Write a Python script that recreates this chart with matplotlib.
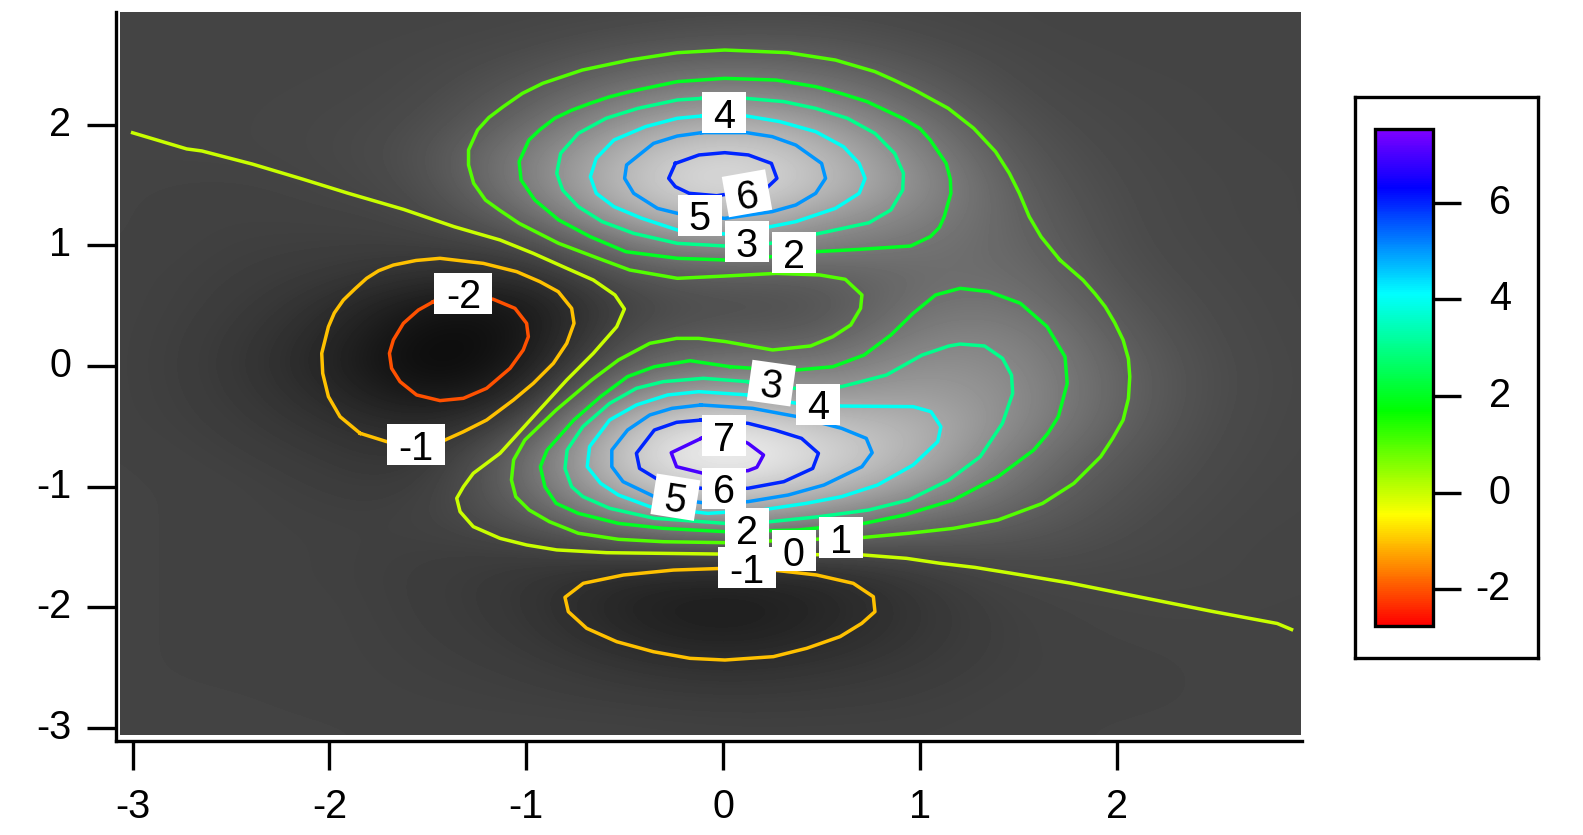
#!/usr/bin/env python3
import numpy as np

import matplotlib
matplotlib.use("Agg")
import matplotlib.pyplot as plt
from matplotlib.colors import LinearSegmentedColormap, Normalize
from matplotlib.cm import ScalarMappable
from matplotlib.patches import Rectangle
from matplotlib.transforms import Affine2D

plt.rcParams["font.family"] = ["Liberation Sans", "DejaVu Sans"]
plt.rcParams["axes.unicode_minus"] = False

# surface values (rows from y=3 down to y=-3)
grid_x = [-3, -2.5, -2, -1.5, -1, -0.5, 0, 0.5, 1, 1.5, 2, 2.5, 3]
grid_y = [3 - 0.25 * i for i in range(25)]
z_grid = [
    [0, 0, 0, 0, 0, 0, .1, .1, .05, 0, 0, 0, 0],
    [0, 0, 0, 0, .05, .3, .5, .5, .2, 0, 0, 0, 0],
    [0, 0, 0, .05, .35, 1.05, 1.4, 1.2, .6, .1, 0, 0, 0],
    [0, 0, .02, .1, .85, 2.05, 2.8, 2.3, 1.1, .2, .05, 0, 0],
    [0, 0, .05, .25, 1.4, 3.4, 4.5, 3.7, 1.85, .4, .1, 0, 0],
    [-.02, 0, .05, .4, 2.25, 4.6, 6.05, 4.8, 2.5, .65, .15, .02, 0],
    [-.05, -.1, 0, .25, 2.3, 4.95, 6.5, 5.05, 2.9, .9, .2, .05, 0],
    [-.05, -.15, -.1, .02, 1.4, 4, 5.2, 3.6, 2.5, 1.15, .25, .05, 0],
    [-.05, -.2, -.25, -.25, .1, 2, 3.05, 2.3, 1.9, 1.4, .3, .08, 0],
    [-.1, -.25, -.45, -.85, -1, .7, 1, 1, 1.6, 1.7, .45, .1, .02],
    [-.1, -.3, -.8, -1.9, -1.9, .05, .45, .4, 1.95, 2, .7, .15, .02],
    [-.1, -.4, -1.1, -2.4, -2.05, .45, .9, .85, 2.5, 2.55, .95, .2, .02],
    [-.1, -.45, -1.25, -2.55, -1.8, 1.2, 2.1, 2, 3.2, 2.8, 1.2, .25, .03],
    [-.1, -.4, -1, -2, -1.2, 3, 4.2, 3.3, 3.8, 2.95, 1.25, .25, .03],
    [-.1, -.3, -.7, -1.15, 0, 5, 6.5, 5.1, 4.55, 2.7, 1.1, .2, .02],
    [-.05, -.2, -.45, -.8, 1.4, 5.6, 7.5, 6, 4.4, 2.05, .8, .15, .02],
    [-.05, -.1, -.3, -.45, 1.4, 4.7, 6.1, 4.9, 3.4, 1.55, .55, .1, 0],
    [-.05, -.1, -.2, -.2, .75, 2.7, 3.6, 2.8, 1.8, 1.05, .35, .05, 0],
    [-.05, -.1, -.15, -.25, -.2, .4, .7, .5, .5, .5, .2, .02, -.02],
    [-.05, -.1, -.15, -.3, -.55, -1.05, -1.2, -1.05, -.4, .1, .05, .02, -.02],
    [-.05, -.1, -.1, -.3, -.55, -1.35, -1.65, -1.3, -.6, -.1, -.02, 0, -.05],
    [-.05, -.1, -.1, -.25, -.45, -1.1, -1.5, -1.1, -.55, -.15, -.05, -.05, -.05],
    [-.05, -.1, -.1, -.2, -.3, -.6, -.85, -.65, -.4, -.15, -.1, -.05, -.05],
    [-.05, -.05, -.1, -.15, -.2, -.3, -.4, -.35, -.25, -.1, -.1, -.05, -.05],
    [-.05, -.05, -.05, -.1, -.1, -.1, -.15, -.15, -.15, -.1, -.05, -.05, -.05],
]

# contour traces
level0 = [(-3.0, 1.934), (-2.725, 1.80), (-2.648, 1.783), (-2.391, 1.674), (-2.135, 1.549),
          (-1.904, 1.432), (-1.622, 1.298), (-1.366, 1.155), (-1.25, 1.10), (-1.133, 1.045), (-.964, .934),
          (-.794, .81), (-.659, .713), (-.549, .589), (-.501, .473), (-.54, .326), (-.659, .105),
          (-.794, -.116), (-.964, -.42), (-1.133, -.724), (-1.269, -.89), (-1.319, -1.001),
          (-1.353, -1.097), (-1.336, -1.208), (-1.269, -1.332), (-1.133, -1.429), (-.998, -1.484),
          (-.845, -1.525), (-.591, -1.548), (-.032, -1.559), (.713, -1.567), (.933, -1.595),
          (1.103, -1.636), (1.28, -1.67), (1.456, -1.716), (1.764, -1.80), (2.123, -1.917),
          (2.483, -2.034), (2.816, -2.135), (2.889, -2.185)]
level1 = [(1.712, .879), (1.616, 1.072), (1.556, 1.238), (1.506, 1.432), (1.455, 1.598),
          (1.385, 1.777), (1.274, 1.971), (1.144, 2.137), (.973, 2.289), (.87, 2.37), (.772, 2.441),
          (.571, 2.537), (.33, 2.598), (.009, 2.62), (-.232, 2.598), (-.474, 2.537),
          (-.715, 2.454), (-.916, 2.344), (-1.02, 2.26), (-1.117, 2.15), (-1.19, 2.06), (-1.247, 1.957),
          (-1.293, 1.791), (-1.293, 1.667), (-1.267, 1.515), (-1.207, 1.376), (-1.137, 1.294), (-1.036, 1.183),
          (-.835, 1.017), (-.634, .893), (-.474, .796), (-.232, .727), (.009, .746), (.27, .768),
          (.491, .755), (.621, .719), (.706, .589), (.699, .478), (.649, .34), (.558, .243),
          (.445, .166), (.252, .133), (.014, .202), (-.123, .229), (-.236, .229), (-.372, .188),
          (-.531, .05), (-.667, -.116), (-.848, -.365), (-1.007, -.614), (-1.064, -.779),
          (-1.075, -.945), (-1.053, -1.084), (-.985, -1.194), (-.882, -1.291), (-.735, -1.387),
          (-.531, -1.437), (-.304, -1.457), (.014, -1.465), (.717, -1.421), (.944, -1.387),
          (1.171, -1.346), (1.397, -1.277), (1.624, -1.139), (1.783, -.973), (1.919, -.752),
          (1.98, -.60), (2.033, -.448), (2.06, -.27), (2.067, -.088), (2.06, .06), (2.033, .216),
          (1.99, .36), (1.942, .492), (1.89, .60), (1.829, .713)]
level2_top = [(.471, .948), (.692, .967), (.953, .995), (1.053, 1.072), (1.10, 1.15), (1.124, 1.238),
              (1.158, 1.432), (1.155, 1.55), (1.134, 1.68), (1.053, 1.874), (1.0, 1.97), (.913, 2.054), (.732, 2.192),
              (.6, 2.26), (.471, 2.316), (.27, 2.371), (.009, 2.385), (-.232, 2.358), (-.474, 2.275),
              (-.58, 2.23), (-.675, 2.178), (-.77, 2.12), (-.855, 2.054), (-.93, 1.96), (-.986, 1.874),
              (-1.036, 1.694), (-1.026, 1.542),
              (-.956, 1.376), (-.835, 1.211), (-.674, 1.072), (-.494, .948), (-.232, .893),
              (.013, .879), (.25, .907)]
level2_low = [(.036, -.006), (-.168, .044), (-.349, -.006), (-.485, -.088), (-.622, -.254),
              (-.758, -.448), (-.894, -.697), (-.928, -.835), (-.905, -1.001), (-.848, -1.139),
              (-.735, -1.222), (-.531, -1.305), (-.304, -1.346), (.014, -1.374), (.377, -1.36),
              (.717, -1.305), (.921, -1.236), (1.171, -1.111), (1.397, -.918), (1.579, -.697),
              (1.65, -.56), (1.704, -.42), (1.749, -.144), (1.738, .077), (1.647, .326), (1.511, .52),
              (1.352, .616), (1.205, .644), (1.08, .589), (.966, .437), (.853, .257), (.717, .091),
              (.558, -.006), (.377, -.033), (.15, -.019)]
level3_top = [(-.108, 2.219), (-.232, 2.206), (-.433, 2.136), (-.594, 2.054), (-.735, 1.929),
              (-.825, 1.763), (-.845, 1.598), (-.815, 1.459), (-.735, 1.321), (-.614, 1.197),
              (-.454, 1.10), (-.232, 1.017), (.013, .995), (.24, 1.017), (.491, 1.10), (.742, 1.188),
              (.853, 1.294), (.913, 1.459), (.917, 1.598), (.872, 1.763), (.772, 1.929),
              (.632, 2.054), (.471, 2.136), (.31, 2.192), (.119, 2.219)]
level3_low = [(.127, -.13), (-.10, -.102), (-.304, -.13), (-.44, -.185), (-.576, -.31),
              (-.712, -.503), (-.792, -.697), (-.803, -.849), (-.769, -1.001), (-.712, -1.083),
              (-.576, -1.18), (-.349, -1.263), (.014, -1.305), (.24, -1.291), (.49, -1.249),
              (.74, -1.194), (.944, -1.111), (1.148, -.945), (1.307, -.752), (1.42, -.475),
              (1.472, -.227), (1.466, -.075), (1.42, .064), (1.329, .166), (1.205, .182),
              (1.148, .166), (1.012, .091), (.83, -.075), (.603, -.171), (.354, -.185)]
level4_top = [(-.108, 2.073), (-.232, 2.054), (-.393, 1.985), (-.554, 1.874), (-.644, 1.722),
              (-.674, 1.57), (-.644, 1.432), (-.554, 1.321), (-.413, 1.225), (-.232, 1.128),
              (.009, 1.095), (.24, 1.155), (.37, 1.197), (.571, 1.307), (.692, 1.432), (.722, 1.556),
              (.692, 1.68), (.612, 1.819), (.471, 1.943), (.29, 2.026), (.119, 2.073)]
level4_low = [(.127, -.24), (-.123, -.213), (-.281, -.24), (-.44, -.323), (-.576, -.448),
              (-.678, -.669), (-.69, -.835), (-.622, -.973), (-.531, -1.07), (-.372, -1.166),
              (-.077, -1.222), (.195, -1.194), (.422, -1.139), (.603, -1.083), (.785, -.987),
              (.966, -.821), (1.091, -.627), (1.107, -.503), (1.057, -.379), (.966, -.337),
              (.603, -.332), (.377, -.31)]
level5_top = [(-.108, 1.935), (-.232, 1.907), (-.353, 1.846), (-.49, 1.667), (-.50, 1.556),
              (-.454, 1.432), (-.333, 1.307), (-.232, 1.266), (.009, 1.224), (.25, 1.28),
              (.37, 1.335), (.471, 1.432), (.521, 1.556), (.501, 1.68), (.37, 1.832), (.25, 1.902),
              (.119, 1.935)]
level5_low = [(-.111, -.323), (-.259, -.351), (-.372, -.406), (-.485, -.531), (-.565, -.697),
              (-.565, -.835), (-.508, -.959), (-.349, -1.083), (-.077, -1.139), (.127, -1.125),
              (.331, -1.07), (.513, -.987), (.706, -.835), (.758, -.719), (.728, -.60), (.603, -.517),
              (.377, -.42), (.15, -.351)]
level6_top = [(-.242, 1.68), (-.122, 1.75), (.009, 1.769), (.129, 1.75), (.246, 1.68), (.274, 1.556),
              (.22, 1.473), (-.032, 1.412), (-.172, 1.432), (-.242, 1.487), (-.276, 1.556)]
level6_low = [(-.111, -.448), (-.236, -.467), (-.349, -.531), (-.44, -.724), (-.424, -.849),
              (-.327, -.945), (-.111, -1.014), (.127, -1.014), (.309, -.959), (.456, -.849),
              (.485, -.724), (.399, -.60), (.263, -.531), (.127, -.475)]
level7 = [(-.111, -.60), (-.263, -.719), (-.236, -.835), (-.10, -.89), (.127, -.868), (.172, -.84),
          (.206, -.738), (.127, -.641), (.014, -.558)]
levelm1_left = [(-1.844, -.558), (-1.946, -.42), (-2.005, -.254), (-2.034, -.061), (-2.039, .105),
                (-2.005, .326), (-1.975, .44), (-1.929, .547), (-1.87, .64), (-1.811, .727), (-1.75, .79),
                (-1.675, .837), (-1.56, .875), (-1.438, .893),
                (-1.218, .851), (-1.048, .782), (-.93, .699), (-.837, .616), (-.769, .478),
                (-.757, .354), (-.794, .188), (-.862, .022), (-.964, -.144), (-1.065, -.282),
                (-1.201, -.448), (-1.319, -.545), (-1.413, -.614), (-1.557, -.669), (-1.709, -.627)]
levelm1_low = [(.002, -1.678), (-.252, -1.692), (-.506, -1.733), (-.71, -1.802), (-.803, -1.918),
               (-.786, -2.037), (-.693, -2.175), (-.54, -2.286), (-.354, -2.369), (-.168, -2.424),
               (.01, -2.438), (.256, -2.41), (.425, -2.341), (.595, -2.244), (.705, -2.134),
               (.772, -2.037), (.764, -1.913), (.662, -1.802), (.476, -1.733), (.256, -1.692)]
levelm2 = [(-1.472, .533), (-1.548, .464), (-1.624, .354), (-1.675, .216), (-1.695, .105),
           (-1.684, -.019), (-1.641, -.13), (-1.557, -.24), (-1.438, -.287), (-1.319, -.268),
           (-1.201, -.185), (-1.082, -.019), (-1.015, .133), (-.989, .243), (-.998, .354),
           (-1.057, .478), (-1.167, .553), (-1.319, .589)]

traces = [
    (0, level0, False), (1, level1, True), (2, level2_top, True), (2, level2_low, True),
    (3, level3_top, True), (3, level3_low, True), (4, level4_top, True), (4, level4_low, True),
    (5, level5_top, True), (5, level5_low, True), (6, level6_top, True), (6, level6_low, True),
    (7, level7, True), (-1, levelm1_left, True), (-1, levelm1_low, True), (-2, levelm2, True),
]

# contour labels: text, x, y, rotation
labels = [
    ("4", .005, 2.101, 0), ("5", -.118, 1.248, 0), ("6", .122, 1.432, 10), ("3", .122, 1.03, 0),
    ("2", .359, .938, 0), ("-2", -1.319, .603, 0), ("-1", -1.56, -.653, 0), ("3", .246, -.142, -8),
    ("4", .482, -.318, 0), ("7", .005, -.577, 0), ("5", -.242, -1.088, -9), ("6", .005, -1.013, 0),
    ("2", .122, -1.348, 0), ("1", .602, -1.423, 0), ("0", .359, -1.532, 0), ("-1", .122, -1.674, 0),
]

x_ticks = [-3, -2, -1, 0, 1, 2]
y_ticks = [-3, -2, -1, 0, 1, 2]
cbar_ticks = [-2, 0, 2, 4, 6]
z_min, z_max = -2.76, 7.53

W, H = 1583, 835
FS = 28.5


def px_axes(fig, left, top, right, bottom):
    return fig.add_axes([left / W, 1 - bottom / H, (right - left) / W, (bottom - top) / H])


# rainbow as in the colour scale: red, yellow, green, cyan, blue, purple
stops = [(-2.76, (1, 0, 0)), (-.47, (1, 1, 0)), (1.69, (0, 1, 0)),
         (4.12, (0, 1, 1)), (6.32, (0, 0, 1)), (7.53, (.5, 0, 1))]
rainbow = LinearSegmentedColormap.from_list(
    "rainbow_igor", [((v - z_min) / (z_max - z_min), c) for v, c in stops], N=256)
norm = Normalize(z_min, z_max)

fig = plt.figure(figsize=(W / 100, H / 100), dpi=100)

# main plot: spines sit a few pixels off the image
sx = 196.8
sy = 120.6
ax = px_axes(fig, 115.5, 12, 1302, 741)
ax.set_facecolor("white")

dx = grid_x[1] - grid_x[0]
dy = grid_y[0] - grid_y[1]
im = ax.imshow(z_grid, cmap="gray", norm=norm, interpolation="bicubic", aspect="auto",
               extent=(grid_x[0] - dx / 2, grid_x[-1] + dx / 2, grid_y[-1] - dy / 2, grid_y[0] + dy / 2))
ax.set_xlim((115.5 - 723) / sx, (1302 - 723) / sx)
ax.set_ylim((366 - 741) / sy, (366 - 12) / sy)
im.set_clip_path(Rectangle((-3.0625, -3.0625), 6.0, 6.0, transform=ax.transData))

for level, pts, closed in traces:
    xs = [p[0] for p in pts]
    ys = [p[1] for p in pts]
    if closed:
        xs.append(xs[0])
        ys.append(ys[0])
    ax.plot(xs, ys, color=rainbow(norm(level)), lw=2.5, solid_joinstyle="round")

for txt, x, y, rot in labels:
    w = 44 if not txt.startswith("-") else 58
    h = 41
    px, py = ax.transData.transform((x, y))
    ax.add_patch(Rectangle((-w / 2, -h / 2), w, h, facecolor="white", edgecolor="none", zorder=5,
                           transform=Affine2D().rotate_deg(rot).translate(px, py)))
    ax.text(x, y, txt, fontsize=FS, ha="center", va="center_baseline", rotation=rot,
            rotation_mode="anchor", zorder=6)

for side in ["top", "right"]:
    ax.spines[side].set_visible(False)
for side in ["left", "bottom"]:
    ax.spines[side].set_linewidth(2.4)
ax.set_xticks(x_ticks)
ax.set_xticklabels([str(t) for t in x_ticks])
ax.set_yticks(y_ticks)
ax.set_yticklabels([str(t) for t in y_ticks])
ax.tick_params(length=21, width=2.4, labelsize=FS, direction="out")
ax.tick_params(axis="x", pad=12.5)
ax.tick_params(axis="y", pad=11)
for lab in ax.get_yticklabels():
    lab.set_va("center")

# colour scale in its frame
frame = px_axes(fig, 1355, 97, 1538, 658)
frame.set_xticks([])
frame.set_yticks([])
for s in frame.spines.values():
    s.set_linewidth(2.4)

cax = px_axes(fig, 1375, 129, 1433, 626)
cbar = fig.colorbar(ScalarMappable(norm=norm, cmap=rainbow), cax=cax)
cbar.set_ticks(cbar_ticks)
cbar.set_ticklabels([str(t) for t in cbar_ticks])
cbar.outline.set_linewidth(2.4)
cax.tick_params(length=20, width=2.4, labelsize=FS, pad=36)
for lab in cax.get_yticklabels():
    lab.set_ha("right")
    lab.set_va("center")

fig.savefig("out.png", dpi=100)
